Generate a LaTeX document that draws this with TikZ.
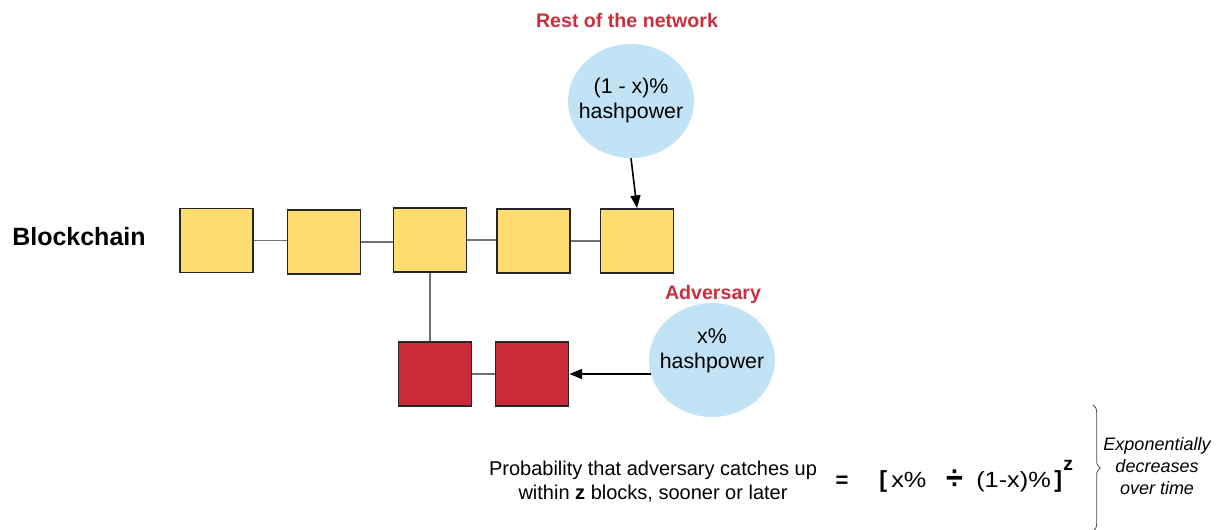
\documentclass[tikz,border=0pt]{standalone}
\usepackage{fontspec}
\setmainfont{Liberation Sans}
\usetikzlibrary{decorations.pathreplacing,arrows.meta,shapes.geometric}
\definecolor{blockyellow}{HTML}{FFDD71}
\definecolor{blockred}{HTML}{C92B39}
\definecolor{labelred}{HTML}{C9303E}
\definecolor{hashblue}{HTML}{C2E3F5}
\definecolor{linkgray}{HTML}{707070}
\begin{document}
\begin{tikzpicture}[x=0.75pt,y=-0.75pt,
  blockbox/.style={draw=black!85,line width=1.4pt,minimum width=54.75pt,minimum height=48pt,inner sep=0pt},
  yblock/.style={blockbox,fill=blockyellow},
  rblock/.style={blockbox,fill=blockred},
  hashell/.style={ellipse,fill=hashblue,inner sep=0pt,minimum width=94.5pt,minimum height=85.5pt},
  hashtxt/.style={align=center,font=\fontsize{16}{18.75}\selectfont,inner sep=0pt},
  redtitle/.style={text=labelred,font=\fontsize{14.7}{17}\selectfont\bfseries,inner sep=0pt},
  link/.style={draw=linkgray,line width=0.9pt},
  minearrow/.style={draw=black,line width=1.2pt,-{Triangle[length=9.5pt,width=7.5pt]}},
  bodytxt/.style={align=center,font=\fontsize{15}{18}\selectfont,inner sep=0pt},
  notetxt/.style={align=center,font=\fontsize{13.5}{16.5}\selectfont\itshape,inner sep=0pt},
  formtxt/.style={anchor=base west,font=\fontsize{16.5}{18}\selectfont,inner sep=0pt},
  formbold/.style={font=\bfseries,inner sep=0pt}
]
\useasboundingbox (0,0) rectangle (1220,529);

% title and labels
\node[anchor=west,font=\fontsize{18.75}{22}\selectfont\bfseries,inner sep=0pt] (bc) at (12,237) {Blockchain};
\node[redtitle] (resttitle) at (627,20) {Rest of the network};
\node[redtitle] (advtitle) at (713,294) {Adversary};

% hashpower ellipses
\node[hashell] (rest) at (631,101) {};
\node[hashtxt] (resttxt) at (631,100) {(1 - x)\%\\hashpower};
\node[hashell] (adv) at (712,360) {};
\node[hashtxt] (advtxt) at (712,351) {x\%\\hashpower};

% main chain
\node[yblock] (b1) at (216.5,240.5) {};
\node[yblock] (b2) at (324,242) {};
\node[yblock] (b3) at (430,240) {};
\node[yblock] (b4) at (533.5,241) {};
\node[yblock] (b5) at (637,241) {};

% adversary chain
\node[rblock] (r1) at (435,374) {};
\node[rblock] (r2) at (532,374) {};

% links
\draw[link] (b1.east) -- (b2.west |- b1.east);
\draw[link] (b2.east) -- (b3.west |- b2.east);
\draw[link] (b3.east) -- (b4.west |- b3.east);
\draw[link] (b4.east) -- (b5.west |- b4.east);
\draw[link] (b3.south) -- (b3.south |- r1.north);
\draw[link] (r1.east) -- (r2.west);

% mining arrows
\draw[minearrow] (rest.south) -- (b5.north);
\coordinate (advtail) at (651,374);
\draw[minearrow] (advtail) -- (r2.east);

% formula
\node[bodytxt] (prob) at (653,482) {Probability that adversary catches up\\within \textbf{z} blocks, sooner or later};
\node[font=\fontsize{16.5}{18}\selectfont\bfseries,inner sep=0pt] (eq) at (842,482) {=};
\node[anchor=base west,font=\fontsize{17.5}{18}\selectfont\bfseries,inner sep=0pt] (lbr) at (879,487) {[};
\node[formtxt] (xp) at (891,487) {\scalebox{1.15}[1]{x\%}};
\node[font=\fontsize{23}{24}\selectfont\bfseries,inner sep=0pt] (divsign) at (954.5,480) {\scalebox{1}[1.1]{÷}};
\node[formtxt] (oxp) at (976,487) {\scalebox{1.15}[1]{(1-x)\%}};
\node[anchor=base west,font=\fontsize{17.5}{18}\selectfont\bfseries,inner sep=0pt] (rbr) at (1054,487) {]};
\node[anchor=base west,font=\fontsize{14.5}{15}\selectfont\bfseries,inner sep=0pt] (zexp) at (1063,470) {z};

% brace
\coordinate (bracetop) at (1093,405);
\coordinate (bracebot) at (1093,531);
\draw[draw=black!70,line width=0.6pt,decorate,decoration={brace,amplitude=5.5pt}] (bracetop) -- (bracebot);
\node[notetxt] (note) at (1157,466) {Exponentially\\decreases\\over time};
\end{tikzpicture}
\end{document}
